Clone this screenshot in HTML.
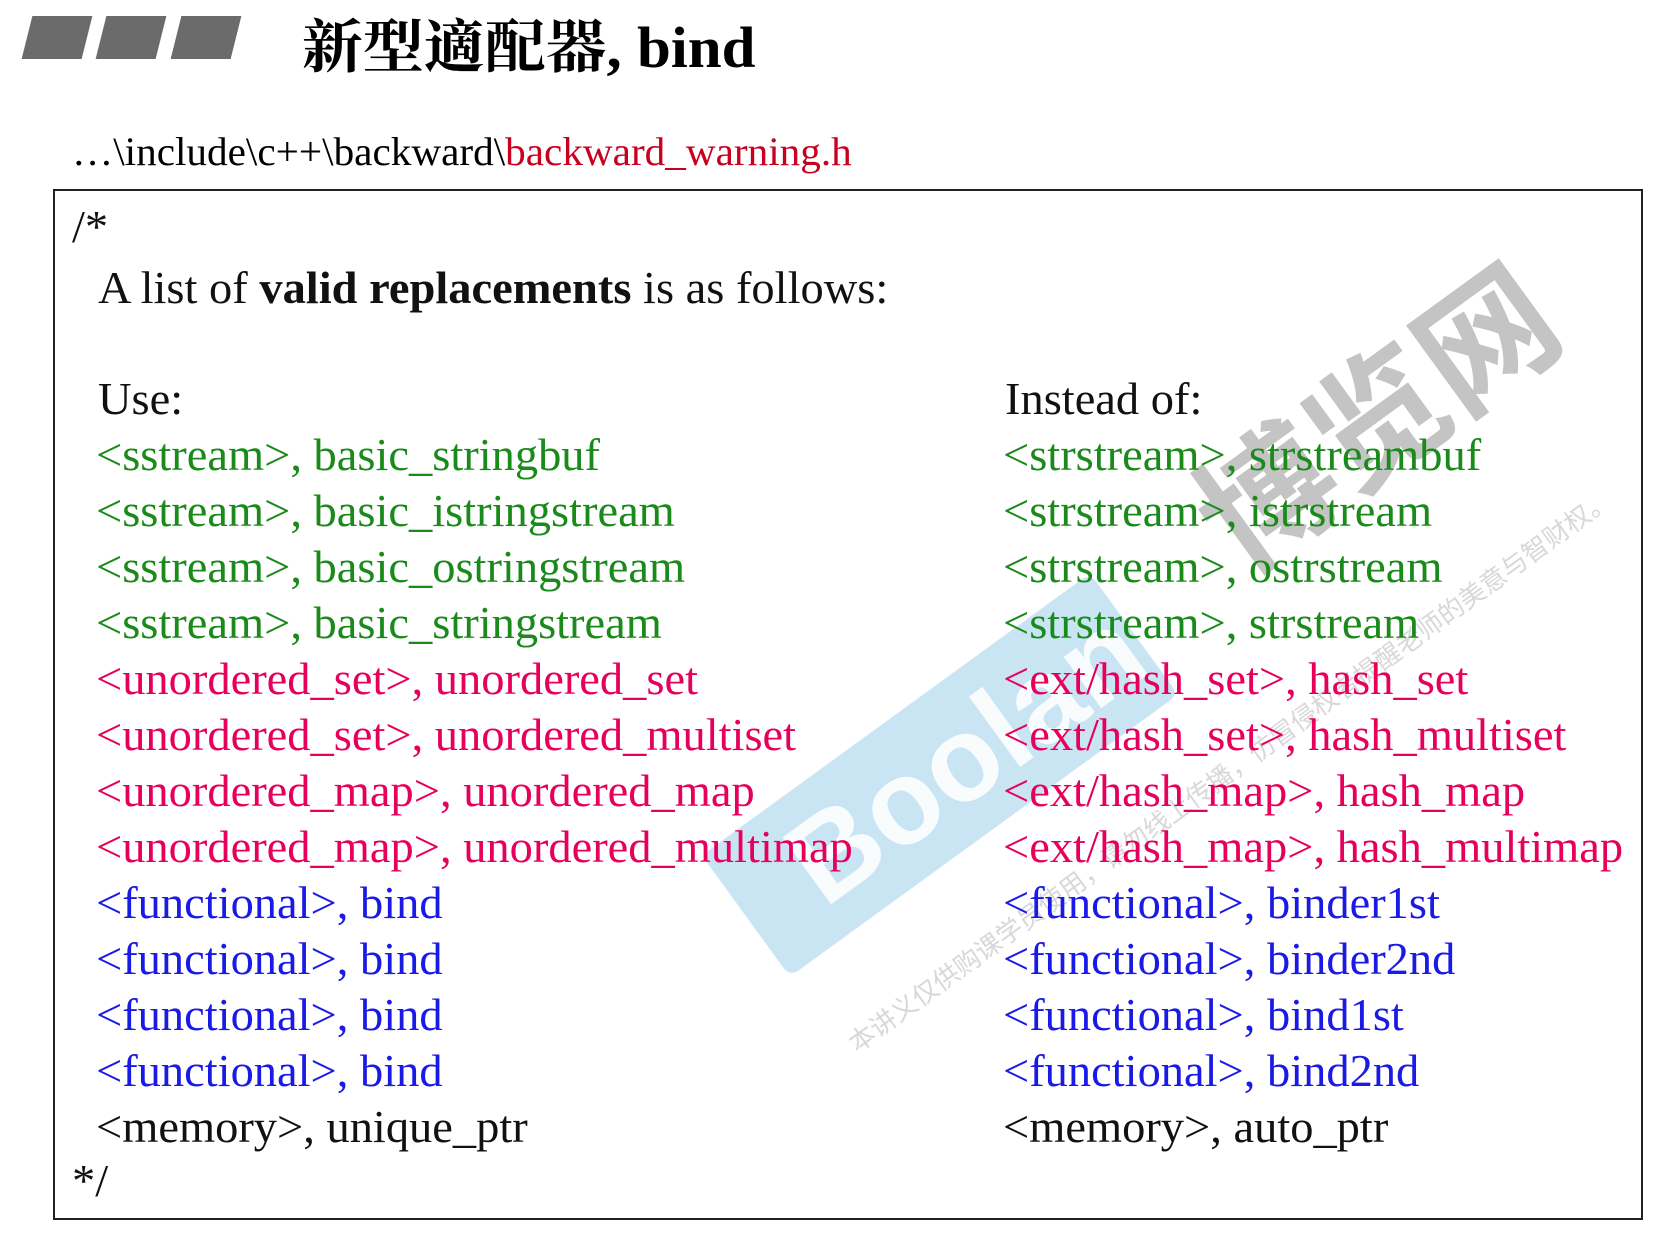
<!DOCTYPE html>
<html><head><meta charset="utf-8"><style>
body{margin:0;width:1674px;height:1240px;background:#fff;position:relative;overflow:hidden;font-family:"Liberation Serif","Noto Serif CJK SC",serif;}
.p{position:absolute;top:16px;height:43px;width:60px;background:#6b6b6b;transform:skewX(-14deg);}
.t{position:absolute;white-space:nowrap;transform-origin:0 0;}
.l{position:absolute;white-space:nowrap;font-size:46px;line-height:46px;transform:scaleX(1.01);transform-origin:0 0;}
.g{color:#1a8a1a}.r{color:#e6005c}.b{color:#1a1ae6}.k{color:#111}
</style></head><body>
<div class="p" style="left:27px"></div><div class="p" style="left:101px"></div><div class="p" style="left:176px"></div>
<div class="t" style="left:302px;top:0px;font-size:58px;font-weight:bold;transform:scaleX(1.05)">新型適配器, bind</div>
<div class="t" style="left:72px;top:128px;font-size:40px;transform:scaleX(1.03)">…\include\c++\backward\<span style="color:#c8001e">backward_warning.h</span></div>
<div style="position:absolute;left:53px;top:189px;width:1590px;height:1031px;border:2px solid #222;box-sizing:border-box"></div>
<!-- watermark -->
<div style="position:absolute;left:700px;top:700px;width:480px;height:150px;background:#bfe0f2;transform:rotate(-36deg);border-radius:10px;opacity:.85"></div>
<div class="t" style="left:760px;top:820px;font-size:120px;font-weight:bold;color:#fff;font-family:'Liberation Sans',sans-serif;transform:rotate(-36deg);opacity:.9">Boolan</div>
<div class="t" style="left:1150px;top:450px;font-size:135px;font-weight:bold;color:#c4c4c4;font-family:'Noto Sans CJK SC',sans-serif;transform:rotate(-36deg)">博览网</div>
<div class="t" style="left:840px;top:1030px;font-size:26px;color:#d8d8d8;font-family:'Noto Sans CJK SC',sans-serif;transform:rotate(-36deg)">本讲义仅供购课学员使用，请勿线上传播，仿冒侵权者提醒老师的美意与智财权。</div>

<div class="l k" style="left:72px;top:204px">/*</div>
<div class="l k" style="left:98px;top:265px">A list of <b>valid replacements</b> is as follows:</div>
<div class="l k" style="left:98px;top:376px">Use:</div>
<div class="l k" style="left:1005px;top:376px">Instead of:</div>

<div class="l g" style="left:96px;top:432px">&lt;sstream&gt;, basic_stringbuf</div>
<div class="l g" style="left:96px;top:488px">&lt;sstream&gt;, basic_istringstream</div>
<div class="l g" style="left:96px;top:544px">&lt;sstream&gt;, basic_ostringstream</div>
<div class="l g" style="left:96px;top:600px">&lt;sstream&gt;, basic_stringstream</div>
<div class="l r" style="left:96px;top:656px">&lt;unordered_set&gt;, unordered_set</div>
<div class="l r" style="left:96px;top:712px">&lt;unordered_set&gt;, unordered_multiset</div>
<div class="l r" style="left:96px;top:768px">&lt;unordered_map&gt;, unordered_map</div>
<div class="l r" style="left:96px;top:824px">&lt;unordered_map&gt;, unordered_multimap</div>
<div class="l b" style="left:96px;top:880px">&lt;functional&gt;, bind</div>
<div class="l b" style="left:96px;top:936px">&lt;functional&gt;, bind</div>
<div class="l b" style="left:96px;top:992px">&lt;functional&gt;, bind</div>
<div class="l b" style="left:96px;top:1048px">&lt;functional&gt;, bind</div>
<div class="l k" style="left:96px;top:1104px">&lt;memory&gt;, unique_ptr</div>

<div class="l g" style="left:1003px;top:432px">&lt;strstream&gt;, strstreambuf</div>
<div class="l g" style="left:1003px;top:488px">&lt;strstream&gt;, istrstream</div>
<div class="l g" style="left:1003px;top:544px">&lt;strstream&gt;, ostrstream</div>
<div class="l g" style="left:1003px;top:600px">&lt;strstream&gt;, strstream</div>
<div class="l r" style="left:1003px;top:656px">&lt;ext/hash_set&gt;, hash_set</div>
<div class="l r" style="left:1003px;top:712px">&lt;ext/hash_set&gt;, hash_multiset</div>
<div class="l r" style="left:1003px;top:768px">&lt;ext/hash_map&gt;, hash_map</div>
<div class="l r" style="left:1003px;top:824px">&lt;ext/hash_map&gt;, hash_multimap</div>
<div class="l b" style="left:1003px;top:880px">&lt;functional&gt;, binder1st</div>
<div class="l b" style="left:1003px;top:936px">&lt;functional&gt;, binder2nd</div>
<div class="l b" style="left:1003px;top:992px">&lt;functional&gt;, bind1st</div>
<div class="l b" style="left:1003px;top:1048px">&lt;functional&gt;, bind2nd</div>
<div class="l k" style="left:1003px;top:1104px">&lt;memory&gt;, auto_ptr</div>
<div class="l k" style="left:72px;top:1158px">*/</div>
</body></html>
